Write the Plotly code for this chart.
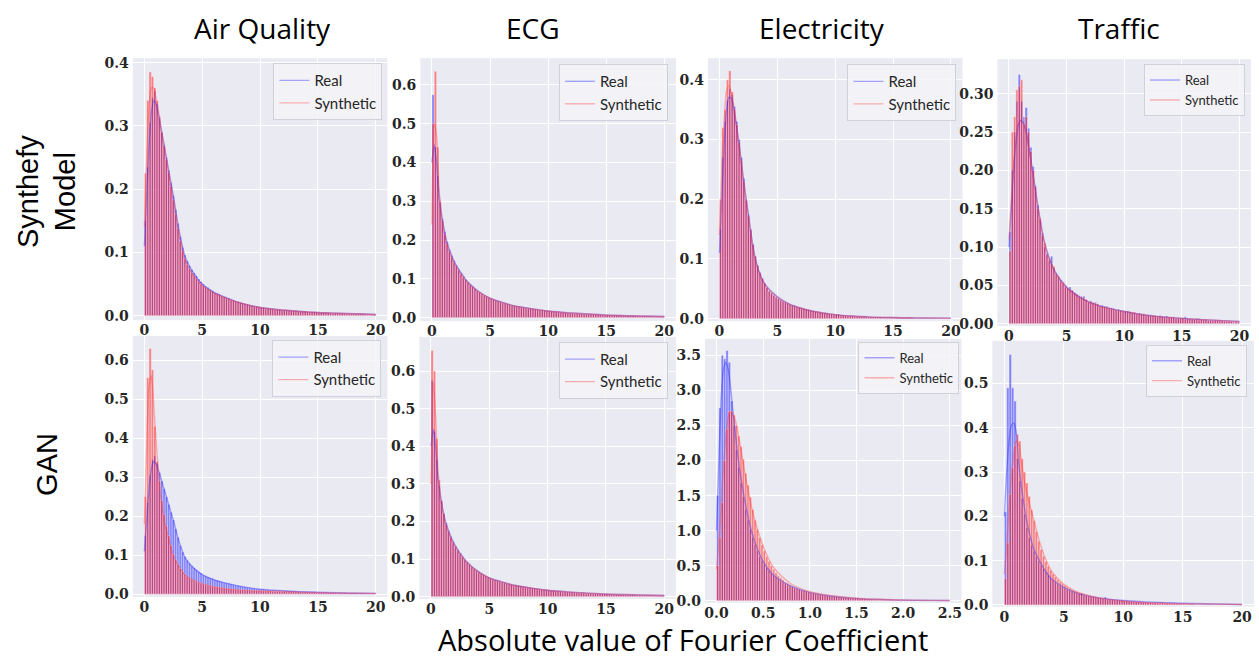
import numpy as np
import plotly.graph_objects as go

# ---------------- data (densities) ----------------
BIN_W = 0.2            # histogram bin width for the 0-20 panels
BIN_W_ELEC_GAN = 0.025 # histogram bin width for the Electricity / GAN panel (0-2.5)

AQ_REAL = [
    0.150, 0.235, 0.305, 0.345, 0.355, 0.335, 0.312, 0.290, 0.270, 0.250,
    0.230, 0.210, 0.190, 0.168, 0.146, 0.125, 0.108, 0.096, 0.087, 0.079,
    0.073, 0.068, 0.063, 0.058, 0.054, 0.050, 0.047, 0.045, 0.042, 0.040,
    0.037, 0.036, 0.034, 0.032, 0.030, 0.029, 0.028, 0.026, 0.025, 0.023,
    0.022, 0.021, 0.020, 0.019, 0.018, 0.017, 0.016, 0.015, 0.014, 0.014,
    0.013, 0.013, 0.012, 0.012, 0.011, 0.011, 0.010, 0.010, 0.010, 0.009,
    0.009, 0.009, 0.008, 0.008, 0.008, 0.008, 0.007, 0.007, 0.007, 0.007,
    0.006, 0.006, 0.006, 0.006, 0.005, 0.005, 0.005, 0.005, 0.005, 0.004,
    0.004, 0.004, 0.004, 0.004, 0.004, 0.004, 0.004, 0.003, 0.003, 0.003,
    0.003, 0.003, 0.003, 0.003, 0.003, 0.003, 0.002, 0.002, 0.002, 0.002]
AQ_SYNTHEFY = [
    0.225, 0.340, 0.385, 0.378, 0.360, 0.340, 0.315, 0.290, 0.268, 0.247,
    0.226, 0.205, 0.183, 0.160, 0.138, 0.118, 0.102, 0.090, 0.081, 0.074,
    0.068, 0.063, 0.058, 0.054, 0.050, 0.047, 0.044, 0.042, 0.040, 0.038,
    0.036, 0.034, 0.033, 0.031, 0.030, 0.028, 0.027, 0.025, 0.024, 0.023,
    0.022, 0.021, 0.020, 0.019, 0.018, 0.017, 0.016, 0.015, 0.015, 0.014,
    0.013, 0.013, 0.012, 0.012, 0.011, 0.011, 0.010, 0.010, 0.010, 0.009,
    0.009, 0.009, 0.009, 0.008, 0.008, 0.008, 0.007, 0.007, 0.007, 0.007,
    0.006, 0.006, 0.006, 0.006, 0.006, 0.005, 0.005, 0.005, 0.005, 0.005,
    0.004, 0.004, 0.004, 0.004, 0.004, 0.004, 0.003, 0.003, 0.003, 0.003,
    0.003, 0.003, 0.003, 0.003, 0.003, 0.002, 0.002, 0.002, 0.002, 0.002]
AQ_GAN = [
    0.250, 0.555, 0.630, 0.575, 0.430, 0.340, 0.290, 0.240, 0.205, 0.175,
    0.150, 0.125, 0.103, 0.088, 0.076, 0.066, 0.058, 0.051, 0.046, 0.042,
    0.038, 0.035, 0.032, 0.030, 0.028, 0.026, 0.024, 0.023, 0.021, 0.020,
    0.019, 0.018, 0.017, 0.016, 0.015, 0.014, 0.014, 0.013, 0.012, 0.012,
    0.011, 0.011, 0.011, 0.010, 0.010, 0.010, 0.009, 0.009, 0.009, 0.009,
    0.008, 0.008, 0.008, 0.008, 0.008, 0.007, 0.007, 0.007, 0.007, 0.007,
    0.007, 0.006, 0.006, 0.006, 0.006, 0.006, 0.006, 0.005, 0.005, 0.005,
    0.005, 0.005, 0.005, 0.005, 0.004, 0.004, 0.004, 0.004, 0.004, 0.004,
    0.004, 0.004, 0.003, 0.003, 0.003, 0.003, 0.003, 0.003, 0.003, 0.003,
    0.003, 0.003, 0.002, 0.002, 0.002, 0.002, 0.002, 0.002, 0.002, 0.002]

ECG_REAL = [
    0.575, 0.440, 0.365, 0.295, 0.255, 0.222, 0.196, 0.176, 0.160, 0.147,
    0.135, 0.125, 0.116, 0.107, 0.099, 0.092, 0.086, 0.080, 0.075, 0.070,
    0.066, 0.062, 0.058, 0.055, 0.052, 0.049, 0.047, 0.045, 0.043, 0.041,
    0.039, 0.037, 0.035, 0.034, 0.032, 0.031, 0.030, 0.029, 0.028, 0.027,
    0.026, 0.025, 0.024, 0.023, 0.022, 0.021, 0.020, 0.020, 0.019, 0.018,
    0.017, 0.016, 0.016, 0.015, 0.015, 0.014, 0.013, 0.013, 0.012, 0.012,
    0.012, 0.011, 0.011, 0.010, 0.010, 0.010, 0.009, 0.009, 0.009, 0.008,
    0.008, 0.008, 0.008, 0.007, 0.007, 0.007, 0.007, 0.006, 0.006, 0.006,
    0.006, 0.006, 0.005, 0.005, 0.005, 0.005, 0.005, 0.005, 0.004, 0.004,
    0.004, 0.004, 0.004, 0.004, 0.004, 0.003, 0.003, 0.003, 0.003, 0.003]
ECG_SYNTHEFY = [
    0.500, 0.635, 0.440, 0.300, 0.250, 0.215, 0.190, 0.170, 0.155, 0.142,
    0.131, 0.121, 0.112, 0.104, 0.097, 0.090, 0.084, 0.079, 0.074, 0.069,
    0.065, 0.061, 0.058, 0.054, 0.051, 0.049, 0.046, 0.044, 0.042, 0.040,
    0.038, 0.037, 0.035, 0.033, 0.032, 0.031, 0.030, 0.029, 0.027, 0.026,
    0.025, 0.024, 0.024, 0.023, 0.022, 0.021, 0.020, 0.019, 0.019, 0.018,
    0.017, 0.017, 0.016, 0.015, 0.014, 0.014, 0.013, 0.013, 0.012, 0.012,
    0.011, 0.011, 0.011, 0.010, 0.010, 0.009, 0.009, 0.009, 0.009, 0.008,
    0.008, 0.008, 0.007, 0.007, 0.007, 0.007, 0.006, 0.006, 0.006, 0.006,
    0.006, 0.005, 0.005, 0.005, 0.005, 0.005, 0.005, 0.004, 0.004, 0.004,
    0.004, 0.004, 0.004, 0.004, 0.003, 0.003, 0.003, 0.003, 0.003, 0.003]
ECG_GAN = [
    0.655, 0.600, 0.420, 0.310, 0.255, 0.220, 0.192, 0.172, 0.156, 0.143,
    0.132, 0.122, 0.113, 0.105, 0.097, 0.090, 0.084, 0.079, 0.074, 0.069,
    0.065, 0.061, 0.058, 0.055, 0.052, 0.049, 0.046, 0.044, 0.042, 0.040,
    0.038, 0.037, 0.035, 0.034, 0.032, 0.031, 0.030, 0.029, 0.028, 0.027,
    0.026, 0.025, 0.024, 0.023, 0.022, 0.021, 0.020, 0.019, 0.019, 0.018,
    0.017, 0.016, 0.016, 0.015, 0.015, 0.014, 0.013, 0.013, 0.012, 0.012,
    0.012, 0.011, 0.011, 0.010, 0.010, 0.010, 0.009, 0.009, 0.009, 0.008,
    0.008, 0.008, 0.008, 0.007, 0.007, 0.007, 0.007, 0.006, 0.006, 0.006,
    0.006, 0.006, 0.005, 0.005, 0.005, 0.005, 0.005, 0.004, 0.004, 0.004,
    0.004, 0.004, 0.004, 0.004, 0.003, 0.003, 0.003, 0.003, 0.003, 0.003]

ELEC_REAL_A = [
    0.150, 0.270, 0.330, 0.365, 0.385, 0.375, 0.355, 0.330, 0.300, 0.270,
    0.235, 0.200, 0.175, 0.150, 0.125, 0.105, 0.090, 0.078, 0.068, 0.060,
    0.052, 0.047, 0.043, 0.040, 0.037, 0.034, 0.032, 0.030, 0.028, 0.026,
    0.024, 0.023, 0.022, 0.020, 0.019, 0.018, 0.017, 0.016, 0.015, 0.014,
    0.013, 0.012, 0.011, 0.011, 0.010, 0.009, 0.009, 0.008, 0.008, 0.007,
    0.007, 0.007, 0.006, 0.006, 0.006, 0.005, 0.005, 0.005, 0.005, 0.004,
    0.004, 0.004, 0.004, 0.004, 0.003, 0.003, 0.003, 0.003, 0.003, 0.003,
    0.003, 0.003, 0.002, 0.002, 0.002, 0.002, 0.002, 0.002, 0.002, 0.002,
    0.002, 0.002, 0.002, 0.002, 0.001, 0.001, 0.001, 0.001, 0.001, 0.001,
    0.001, 0.001, 0.001, 0.001, 0.001, 0.001, 0.001, 0.001, 0.001, 0.001]
ELEC_SYNTHEFY = [
    0.200, 0.320, 0.350, 0.400, 0.415, 0.380, 0.350, 0.325, 0.295, 0.265,
    0.230, 0.198, 0.172, 0.148, 0.124, 0.104, 0.089, 0.077, 0.067, 0.059,
    0.052, 0.046, 0.043, 0.039, 0.036, 0.034, 0.031, 0.029, 0.027, 0.026,
    0.024, 0.022, 0.021, 0.020, 0.019, 0.018, 0.017, 0.016, 0.015, 0.014,
    0.013, 0.012, 0.012, 0.011, 0.010, 0.010, 0.009, 0.008, 0.008, 0.007,
    0.007, 0.007, 0.006, 0.006, 0.005, 0.005, 0.005, 0.005, 0.004, 0.004,
    0.004, 0.004, 0.004, 0.003, 0.003, 0.003, 0.003, 0.003, 0.003, 0.003,
    0.002, 0.002, 0.002, 0.002, 0.002, 0.002, 0.002, 0.002, 0.002, 0.002,
    0.002, 0.002, 0.002, 0.001, 0.001, 0.001, 0.001, 0.001, 0.001, 0.001,
    0.001, 0.001, 0.001, 0.001, 0.001, 0.001, 0.001, 0.001, 0.001, 0.001]
ELEC_REAL_B = [
    1.500, 2.750, 3.500, 3.450, 3.570, 3.400, 2.850, 2.500, 2.150, 1.900,
    1.680, 1.480, 1.300, 1.150, 1.020, 0.900, 0.800, 0.710, 0.630, 0.570,
    0.520, 0.470, 0.430, 0.390, 0.360, 0.330, 0.300, 0.280, 0.260, 0.240,
    0.225, 0.210, 0.196, 0.183, 0.171, 0.160, 0.150, 0.140, 0.130, 0.122,
    0.115, 0.108, 0.101, 0.095, 0.089, 0.083, 0.078, 0.073, 0.068, 0.064,
    0.060, 0.056, 0.053, 0.050, 0.047, 0.044, 0.041, 0.039, 0.037, 0.035,
    0.033, 0.031, 0.030, 0.028, 0.027, 0.025, 0.024, 0.022, 0.021, 0.020,
    0.019, 0.018, 0.017, 0.016, 0.015, 0.014, 0.013, 0.013, 0.012, 0.011,
    0.011, 0.010, 0.010, 0.009, 0.009, 0.008, 0.008, 0.008, 0.007, 0.007,
    0.007, 0.006, 0.006, 0.006, 0.005, 0.005, 0.005, 0.005, 0.004, 0.004]
ELEC_GAN = [
    0.500, 0.900, 1.400, 2.000, 2.450, 2.700, 2.700, 2.650, 2.500, 2.350,
    2.200, 2.020, 1.820, 1.650, 1.480, 1.300, 1.150, 1.020, 0.900, 0.800,
    0.710, 0.630, 0.560, 0.500, 0.450, 0.400, 0.360, 0.330, 0.300, 0.270,
    0.250, 0.230, 0.210, 0.195, 0.180, 0.170, 0.160, 0.150, 0.140, 0.130,
    0.120, 0.113, 0.106, 0.100, 0.094, 0.088, 0.083, 0.078, 0.073, 0.069,
    0.065, 0.061, 0.057, 0.054, 0.051, 0.048, 0.045, 0.042, 0.040, 0.038,
    0.036, 0.034, 0.032, 0.030, 0.028, 0.027, 0.025, 0.024, 0.023, 0.022,
    0.021, 0.020, 0.019, 0.018, 0.017, 0.016, 0.015, 0.015, 0.014, 0.013,
    0.013, 0.012, 0.012, 0.011, 0.011, 0.010, 0.010, 0.009, 0.009, 0.009,
    0.008, 0.008, 0.008, 0.007, 0.007, 0.007, 0.006, 0.006, 0.006, 0.006]

TRAFFIC_REAL_A = [
    0.120, 0.200, 0.250, 0.290, 0.325, 0.290, 0.270, 0.282, 0.255, 0.230,
    0.205, 0.180, 0.155, 0.135, 0.118, 0.100, 0.092, 0.082, 0.088, 0.072,
    0.066, 0.060, 0.057, 0.052, 0.050, 0.046, 0.048, 0.043, 0.041, 0.038,
    0.037, 0.034, 0.036, 0.031, 0.029, 0.030, 0.027, 0.028, 0.025, 0.024,
    0.024, 0.022, 0.023, 0.020, 0.021, 0.019, 0.018, 0.019, 0.017, 0.017,
    0.016, 0.017, 0.015, 0.015, 0.014, 0.013, 0.014, 0.013, 0.012, 0.012,
    0.011, 0.012, 0.011, 0.010, 0.010, 0.011, 0.009, 0.009, 0.010, 0.008,
    0.008, 0.009, 0.008, 0.007, 0.008, 0.007, 0.009, 0.007, 0.006, 0.007,
    0.006, 0.006, 0.007, 0.005, 0.006, 0.005, 0.005, 0.004, 0.005, 0.004,
    0.004, 0.005, 0.004, 0.003, 0.004, 0.003, 0.003, 0.003, 0.002, 0.003]
TRAFFIC_SYNTHEFY = [
    0.095, 0.250, 0.270, 0.305, 0.310, 0.318, 0.260, 0.270, 0.250, 0.225,
    0.200, 0.178, 0.150, 0.138, 0.115, 0.105, 0.090, 0.085, 0.078, 0.075,
    0.064, 0.062, 0.055, 0.054, 0.048, 0.047, 0.045, 0.044, 0.040, 0.039,
    0.035, 0.036, 0.033, 0.032, 0.028, 0.029, 0.028, 0.026, 0.026, 0.023,
    0.023, 0.023, 0.021, 0.021, 0.019, 0.020, 0.018, 0.017, 0.018, 0.016,
    0.017, 0.015, 0.016, 0.014, 0.015, 0.013, 0.013, 0.012, 0.013, 0.011,
    0.012, 0.010, 0.011, 0.011, 0.009, 0.010, 0.010, 0.009, 0.008, 0.009,
    0.009, 0.008, 0.007, 0.008, 0.007, 0.008, 0.006, 0.007, 0.007, 0.006,
    0.006, 0.007, 0.005, 0.006, 0.005, 0.006, 0.004, 0.005, 0.004, 0.005,
    0.005, 0.004, 0.004, 0.004, 0.003, 0.004, 0.003, 0.002, 0.003, 0.002]
TRAFFIC_REAL_B = [
    0.210, 0.490, 0.565, 0.490, 0.460, 0.330, 0.280, 0.240, 0.205, 0.175,
    0.152, 0.135, 0.121, 0.109, 0.099, 0.090, 0.082, 0.074, 0.067, 0.061,
    0.056, 0.051, 0.047, 0.043, 0.040, 0.037, 0.034, 0.032, 0.030, 0.028,
    0.026, 0.025, 0.027, 0.022, 0.021, 0.020, 0.019, 0.018, 0.017, 0.016,
    0.016, 0.015, 0.018, 0.014, 0.013, 0.013, 0.012, 0.012, 0.011, 0.011,
    0.010, 0.010, 0.009, 0.009, 0.009, 0.008, 0.008, 0.008, 0.007, 0.007,
    0.007, 0.007, 0.006, 0.006, 0.006, 0.006, 0.007, 0.005, 0.005, 0.005,
    0.005, 0.005, 0.004, 0.004, 0.004, 0.004, 0.003, 0.003, 0.003, 0.003,
    0.002, 0.002, 0.002, 0.002, 0.002, 0.002, 0.002, 0.001, 0.001, 0.001,
    0.001, 0.001, 0.001, 0.001, 0.001, 0.001, 0.001, 0.001, 0.001, 0.001]
TRAFFIC_GAN = [
    0.060, 0.140, 0.250, 0.310, 0.360, 0.385, 0.370, 0.330, 0.300, 0.275,
    0.245, 0.215, 0.190, 0.165, 0.143, 0.125, 0.110, 0.098, 0.087, 0.078,
    0.070, 0.063, 0.057, 0.052, 0.048, 0.044, 0.040, 0.037, 0.034, 0.032,
    0.030, 0.028, 0.026, 0.024, 0.022, 0.021, 0.020, 0.019, 0.018, 0.017,
    0.016, 0.015, 0.014, 0.013, 0.013, 0.012, 0.011, 0.011, 0.010, 0.010,
    0.009, 0.009, 0.008, 0.008, 0.007, 0.007, 0.007, 0.006, 0.006, 0.006,
    0.005, 0.005, 0.005, 0.005, 0.004, 0.004, 0.004, 0.004, 0.004, 0.003,
    0.003, 0.003, 0.003, 0.003, 0.002, 0.002, 0.002, 0.002, 0.002, 0.002,
    0.001, 0.001, 0.001, 0.001, 0.001, 0.001, 0.001, 0.001, 0.001, 0.001,
    0.001, 0.001, 0.001, 0.001, 0.001, 0.001, 0.001, 0.001, 0.001, 0.001]

# KDE curves (sampled where read)
KDE_X = [0, 0.2, 0.4, 0.6, 0.8, 1.0, 1.25, 1.5, 1.75, 2, 2.5, 3, 3.5, 4, 5, 6, 7, 8, 10, 12, 15, 20]
KDE_X_ELEC_GAN = [0, 0.025, 0.05, 0.075, 0.1, 0.125, 0.15, 0.2, 0.25, 0.3, 0.35, 0.4, 0.5, 0.6, 0.7,
                  0.8, 1.0, 1.2, 1.5, 2.0, 2.5]

AQ_REAL_KDE = [0.11, 0.19, 0.27, 0.32, 0.34, 0.335, 0.315, 0.29, 0.265, 0.24, 0.19, 0.135, 0.095,
               0.075, 0.05, 0.037, 0.029, 0.022, 0.013, 0.009, 0.005, 0.002]
AQ_SYNTHEFY_KDE = [0.14, 0.25, 0.33, 0.36, 0.36, 0.345, 0.32, 0.29, 0.265, 0.238, 0.185, 0.13, 0.09,
                   0.07, 0.048, 0.036, 0.028, 0.022, 0.013, 0.009, 0.005, 0.002]
AQ_GAN_KDE = [0.18, 0.38, 0.53, 0.56, 0.49, 0.40, 0.30, 0.23, 0.185, 0.155, 0.10, 0.07, 0.05, 0.04,
              0.027, 0.019, 0.014, 0.011, 0.008, 0.007, 0.004, 0.002]
ECG_REAL_KDE = [0.40, 0.445, 0.40, 0.32, 0.27, 0.235, 0.2, 0.176, 0.157, 0.14, 0.116, 0.095, 0.08,
                0.068, 0.05, 0.04, 0.031, 0.026, 0.017, 0.012, 0.007, 0.003]
ECG_SYNTHEFY_KDE = [0.24, 0.50, 0.47, 0.34, 0.27, 0.23, 0.195, 0.17, 0.152, 0.137, 0.113, 0.093,
                    0.079, 0.067, 0.05, 0.04, 0.031, 0.026, 0.017, 0.012, 0.007, 0.003]
ECG_GAN_KDE = [0.30, 0.57, 0.48, 0.34, 0.27, 0.23, 0.195, 0.172, 0.153, 0.138, 0.114, 0.094, 0.079,
               0.067, 0.05, 0.04, 0.031, 0.026, 0.017, 0.012, 0.007, 0.003]
ELEC_REAL_A_KDE = [0.11, 0.2, 0.29, 0.345, 0.37, 0.37, 0.35, 0.32, 0.285, 0.245, 0.175, 0.11, 0.075,
                   0.056, 0.037, 0.025, 0.018, 0.013, 0.007, 0.004, 0.002, 0.001]
ELEC_SYNTHEFY_KDE = [0.14, 0.25, 0.33, 0.38, 0.39, 0.38, 0.355, 0.32, 0.283, 0.242, 0.172, 0.108,
                     0.074, 0.055, 0.036, 0.025, 0.018, 0.013, 0.007, 0.004, 0.002, 0.001]
ELEC_REAL_B_KDE = [1.0, 2.0, 2.9, 3.3, 3.4, 3.3, 3.05, 2.4, 1.85, 1.45, 1.12, 0.88, 0.56, 0.38, 0.28,
                   0.21, 0.12, 0.073, 0.035, 0.012, 0.005]
ELEC_GAN_KDE = [0.45, 0.85, 1.35, 1.9, 2.35, 2.62, 2.7, 2.58, 2.25, 1.85, 1.5, 1.2, 0.78, 0.5, 0.35,
                0.24, 0.13, 0.08, 0.037, 0.014, 0.006]
TRAFFIC_REAL_A_KDE = [0.10, 0.15, 0.20, 0.235, 0.258, 0.265, 0.262, 0.25, 0.228, 0.205, 0.155, 0.112,
                      0.085, 0.068, 0.048, 0.036, 0.028, 0.023, 0.016, 0.011, 0.007, 0.003]
TRAFFIC_SYNTHEFY_KDE = [0.11, 0.16, 0.21, 0.24, 0.26, 0.265, 0.26, 0.248, 0.226, 0.203, 0.153, 0.111,
                        0.085, 0.067, 0.047, 0.035, 0.028, 0.022, 0.016, 0.011, 0.007, 0.003]
TRAFFIC_REAL_B_KDE = [0.2, 0.3, 0.37, 0.405, 0.41, 0.39, 0.31, 0.255, 0.21, 0.175, 0.125, 0.098, 0.075,
                      0.058, 0.04, 0.028, 0.021, 0.016, 0.01, 0.007, 0.004, 0.001]
TRAFFIC_GAN_KDE = [0.07, 0.13, 0.22, 0.29, 0.34, 0.37, 0.36, 0.31, 0.27, 0.24, 0.19, 0.14, 0.102,
                   0.075, 0.047, 0.031, 0.022, 0.016, 0.009, 0.005, 0.003, 0.001]

COLUMN_TITLES = ["Air Quality", "ECG", "Electricity", "Traffic"]
ROW_TITLES = ["Synthefy<br>Model", "GAN"]
X_TITLE = "Absolute value of Fourier Coefficient"
SERIES_NAMES = ["Real", "Synthetic"]

# ---------------- styling / layout ----------------
W, H = 1259, 663
BG = "#EAEAF2"
BAR_REAL = "rgba(0,0,255,0.45)"
BAR_SYN = "rgba(255,0,0,0.45)"
BAR_EDGE = "rgba(255,255,255,0.55)"
LINE_REAL = "rgba(40,40,255,0.4)"
LINE_SYN = "rgba(255,60,60,0.38)"
TICK_FONT = dict(family="DejaVu Serif", size=14, color="#262626", weight="bold")

panels = [
    dict(real=AQ_REAL, syn=AQ_SYNTHEFY, rk=AQ_REAL_KDE, sk=AQ_SYNTHEFY_KDE, kx=KDE_X, bw=BIN_W,
         box=(132, 387, 55, 321), yr=(-0.007, 0.407), dy=0.1, yf=".1f", xr=(-1, 21), dx=5, xf="d",
         leg=(382, 60, 15)),
    dict(real=ECG_REAL, syn=ECG_SYNTHEFY, rk=ECG_REAL_KDE, sk=ECG_SYNTHEFY_KDE, kx=KDE_X, bw=BIN_W,
         box=(420, 676, 55, 322), yr=(-0.009, 0.669), dy=0.1, yf=".1f", xr=(-1, 21), dx=5, xf="d",
         leg=(668, 61, 15)),
    dict(real=ELEC_REAL_A, syn=ELEC_SYNTHEFY, rk=ELEC_REAL_A_KDE, sk=ELEC_SYNTHEFY_KDE, kx=KDE_X, bw=BIN_W,
         box=(708, 963, 55, 322), yr=(-0.004, 0.436), dy=0.1, yf=".1f", xr=(-1, 21), dx=5, xf="d",
         leg=(957, 61, 15)),
    dict(real=TRAFFIC_REAL_A, syn=TRAFFIC_SYNTHEFY, rk=TRAFFIC_REAL_A_KDE, sk=TRAFFIC_SYNTHEFY_KDE, kx=KDE_X,
         bw=BIN_W, box=(998, 1252, 56, 327), yr=(-0.003, 0.345), dy=0.05, yf=".2f", xr=(-1, 21), dx=5,
         xf="d", leg=(1246, 61, 13)),
    dict(real=AQ_REAL, syn=AQ_GAN, rk=AQ_REAL_KDE, sk=AQ_GAN_KDE, kx=KDE_X, bw=BIN_W,
         box=(132, 387, 337, 602), yr=(-0.007, 0.662), dy=0.1, yf=".1f", xr=(-1, 21), dx=5, xf="d",
         leg=(381, 341, 15)),
    dict(real=ECG_REAL, syn=ECG_GAN, rk=ECG_REAL_KDE, sk=ECG_GAN_KDE, kx=KDE_X, bw=BIN_W,
         box=(419, 676, 338, 604), yr=(-0.006, 0.691), dy=0.1, yf=".1f", xr=(-1, 21), dx=5, xf="d",
         leg=(668, 343, 15)),
    dict(real=ELEC_REAL_B, syn=ELEC_GAN, rk=ELEC_REAL_B_KDE, sk=ELEC_GAN_KDE, kx=KDE_X_ELEC_GAN,
         bw=BIN_W_ELEC_GAN, box=(705, 962, 340, 608), yr=(-0.028, 3.734), dy=0.5, yf=".1f",
         xr=(-0.125, 2.625), dx=0.5, xf=".1f", leg=(960, 343, 13)),
    dict(real=TRAFFIC_REAL_B, syn=TRAFFIC_GAN, rk=TRAFFIC_REAL_B_KDE, sk=TRAFFIC_GAN_KDE, kx=KDE_X,
         bw=BIN_W, box=(993, 1255, 342, 612), yr=(-0.004, 0.596), dy=0.1, yf=".1f", xr=(-1, 21), dx=5,
         xf="d", leg=(1248, 346, 13)),
]

fig = go.Figure()
layout = {}
for i, p in enumerate(panels):
    n = i + 1
    sfx = "" if n == 1 else str(n)
    xa, ya, lg = "x" + sfx, "y" + sfx, "legend" + sfx
    centers = (np.arange(len(p["real"])) + 0.5) * p["bw"]
    for vals, col in ((p["real"], BAR_REAL), (p["syn"], BAR_SYN)):
        fig.add_trace(go.Bar(x=centers, y=vals, width=p["bw"], xaxis=xa, yaxis=ya,
                             marker=dict(color=col, line=dict(color=BAR_EDGE, width=0.6)),
                             showlegend=False, hoverinfo="skip"))
    for vals, col, name in ((p["rk"], LINE_REAL, SERIES_NAMES[0]), (p["sk"], LINE_SYN, SERIES_NAMES[1])):
        fig.add_trace(go.Scatter(x=p["kx"], y=vals, mode="lines", name=name, xaxis=xa, yaxis=ya,
                                 line=dict(color=col, width=1.4, shape="spline", smoothing=0.7),
                                 legend=lg, showlegend=True))
    x0, x1, y0, y1 = p["box"]
    layout["xaxis" + sfx] = dict(domain=[x0 / W, x1 / W], range=list(p["xr"]), anchor=ya,
                                 tick0=0, dtick=p["dx"], tickformat=p["xf"], showgrid=True,
                                 gridcolor="white", gridwidth=1, zeroline=False, showline=False,
                                 ticks="", tickfont=TICK_FONT, ticklabelstandoff=0)
    layout["yaxis" + sfx] = dict(domain=[1 - y1 / H, 1 - y0 / H], range=list(p["yr"]), anchor=xa,
                                 tick0=0, dtick=p["dy"], tickformat=p["yf"], showgrid=True,
                                 gridcolor="white", gridwidth=1, zeroline=False, showline=False,
                                 ticks="", tickfont=TICK_FONT, ticklabelstandoff=3)
    rx, ty, fs = p["leg"]
    layout[lg] = dict(x=rx / W, y=1 - ty / H, xanchor="right", yanchor="top",
                      bgcolor="rgba(244,244,248,0.85)", bordercolor="rgba(205,205,215,0.9)",
                      borderwidth=1, font=dict(family="Lato", size=fs, color="#262626"),
                      itemclick=False)

annotations = []
for title, cx in zip(COLUMN_TITLES, (262, 533, 822, 1120)):
    annotations.append(dict(text=title, x=cx / W, y=1 - 24 / H, xref="paper", yref="paper",
                            showarrow=False, xanchor="center", yanchor="middle",
                            font=dict(family="Open Sans", size=28, color="black")))
for title, cy in zip(ROW_TITLES, (190, 467)):
    annotations.append(dict(text=title, x=46 / W, y=1 - cy / H, xref="paper", yref="paper",
                            showarrow=False, xanchor="center", yanchor="middle", textangle=-90,
                            font=dict(family="Liberation Sans", size=29, color="black")))
annotations.append(dict(text=X_TITLE, x=683 / W, y=1 - 645 / H, xref="paper", yref="paper",
                        showarrow=False, xanchor="center", yanchor="middle",
                        font=dict(family="Open Sans", size=29, color="black")))

fig.update_layout(width=W, height=H, autosize=False, margin=dict(l=0, r=0, t=0, b=0),
                  paper_bgcolor="white", plot_bgcolor=BG, barmode="overlay",
                  annotations=annotations, **layout)
fig.write_html("out.html")
